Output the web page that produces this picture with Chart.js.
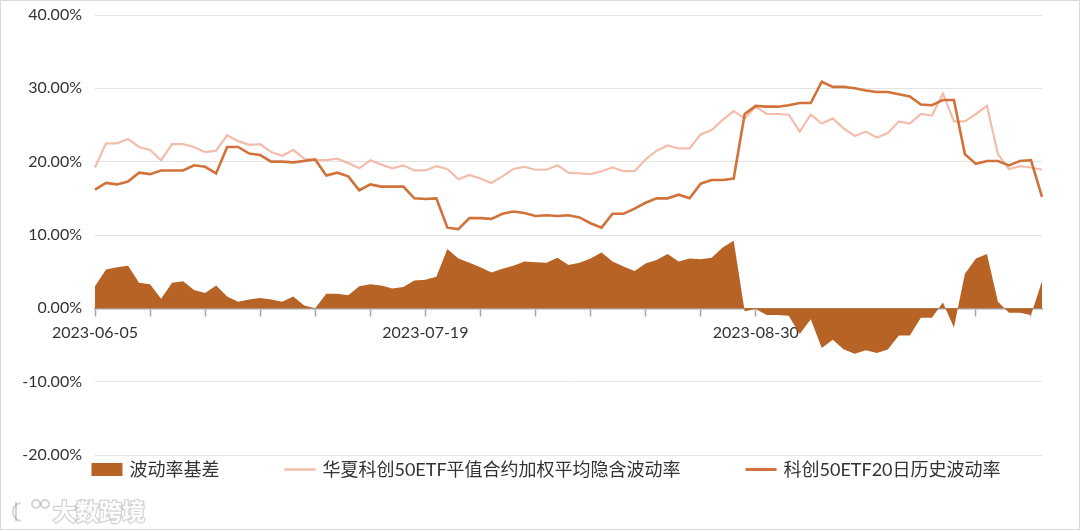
<!DOCTYPE html>
<html><head><meta charset="utf-8">
<script src="https://cdn.jsdelivr.net/npm/chart.js@4.4.1/dist/chart.umd.min.js"></script>
<style>html,body{margin:0;padding:0;background:#fff}#wrap{width:1080px;height:530px;position:relative}</style>
</head><body><div id="wrap"><canvas id="c" width="1080" height="530"></canvas></div>
<script>
// ---- data ----
const dates = [
 '2023-06-05','2023-06-06','2023-06-07','2023-06-08','2023-06-09','2023-06-12','2023-06-13','2023-06-14','2023-06-15','2023-06-16',
 '2023-06-19','2023-06-20','2023-06-21','2023-06-26','2023-06-27','2023-06-28','2023-06-29','2023-06-30',
 '2023-07-03','2023-07-04','2023-07-05','2023-07-06','2023-07-07','2023-07-10','2023-07-11','2023-07-12','2023-07-13','2023-07-14',
 '2023-07-17','2023-07-18','2023-07-19','2023-07-20','2023-07-21','2023-07-24','2023-07-25','2023-07-26','2023-07-27','2023-07-28','2023-07-31',
 '2023-08-01','2023-08-02','2023-08-03','2023-08-04','2023-08-07','2023-08-08','2023-08-09','2023-08-10','2023-08-11',
 '2023-08-14','2023-08-15','2023-08-16','2023-08-17','2023-08-18','2023-08-21','2023-08-22','2023-08-23','2023-08-24','2023-08-25',
 '2023-08-28','2023-08-29','2023-08-30','2023-08-31','2023-09-01','2023-09-04','2023-09-05','2023-09-06','2023-09-07','2023-09-08',
 '2023-09-11','2023-09-12','2023-09-13','2023-09-14','2023-09-15','2023-09-18','2023-09-19','2023-09-20','2023-09-21','2023-09-22',
 '2023-09-25','2023-09-26','2023-09-27','2023-09-28','2023-10-09','2023-10-10','2023-10-11','2023-10-12','2023-10-13'
];
const basis = [
 3.0,5.3,5.6,5.8,3.5,3.3,1.3,3.5,3.7,2.5,
 2.1,3.1,1.6,0.9,1.2,1.4,1.2,0.9,1.6,0.4,
 0.0,2.0,2.0,1.8,3.0,3.3,3.1,2.7,2.9,3.8,
 3.9,4.3,8.1,6.8,6.2,5.6,4.9,5.4,5.8,6.4,
 6.3,6.2,6.9,5.9,6.2,6.8,7.6,6.4,5.7,5.1,
 6.1,6.6,7.4,6.4,6.8,6.7,6.9,8.3,9.2,-0.4,
 -0.1,-0.9,-0.9,-1.0,-3.5,-1.5,-5.4,-4.3,-5.6,-6.2,
 -5.7,-6.1,-5.6,-3.7,-3.7,-1.3,-1.3,0.8,-2.6,4.7,
 6.8,7.4,0.9,-0.6,-0.6,-0.9,3.7
];
const impliedVol = [
 19.2,22.5,22.5,23.1,22.0,21.6,20.2,22.4,22.4,22.0,
 21.3,21.5,23.6,22.8,22.3,22.4,21.3,20.8,21.6,20.4,
 20.2,20.2,20.4,19.8,19.1,20.2,19.6,19.1,19.5,18.8,
 18.8,19.4,19.0,17.6,18.2,17.7,17.1,18.0,19.0,19.3,
 18.9,18.9,19.5,18.5,18.4,18.3,18.7,19.2,18.7,18.7,
 20.3,21.5,22.2,21.8,21.8,23.7,24.3,25.7,26.9,25.9,
 27.5,26.5,26.5,26.4,24.1,26.4,25.2,25.9,24.5,23.5,
 24.1,23.3,23.9,25.5,25.2,26.5,26.3,29.3,25.5,25.5,
 26.5,27.6,21.0,19.0,19.4,19.2,18.9
];
const histVol = [
 16.2,17.1,16.9,17.3,18.5,18.3,18.8,18.8,18.8,19.5,
 19.3,18.4,22.0,22.0,21.1,20.9,20.0,20.0,19.9,20.1,
 20.3,18.1,18.5,18.0,16.1,16.9,16.6,16.6,16.6,15.0,
 14.9,15.0,11.0,10.8,12.3,12.3,12.2,12.9,13.2,13.0,
 12.6,12.7,12.6,12.7,12.4,11.6,11.0,12.9,12.9,13.6,
 14.4,15.0,15.0,15.5,15.0,17.0,17.5,17.5,17.7,26.5,
 27.6,27.5,27.5,27.7,28.0,28.0,30.9,30.2,30.2,30.0,
 29.7,29.5,29.5,29.2,28.9,27.8,27.7,28.4,28.4,21.0,
 19.7,20.1,20.1,19.5,20.1,20.2,15.2
];
const seriesNames = ['波动率基差','华夏科创50ETF平值合约加权平均隐含波动率','科创50ETF20日历史波动率'];
const yMin = -20, yMax = 40, yStep = 10;
const labelEvery = 30, tickMarkEvery = 5;
const watermarkText = '大数跨境';

const FONT = 'Lato, "Noto Sans CJK SC", sans-serif';
Chart.defaults.font.family = FONT;

const framePlugin = {
  id: 'frame',
  beforeDraw(chart) {
    const ctx = chart.ctx;
    ctx.save(); ctx.fillStyle = '#ffffff'; ctx.fillRect(0, 0, chart.width, chart.height); ctx.restore();
  },
  afterDraw(chart) {
    const ctx = chart.ctx;
    ctx.save();
    // legend
    ctx.font = '18px ' + FONT;
    const box = 31, gap = 7, between = 65, cy = 469.5;
    const items = chart.data.datasets.map(d => ({ d, w: ctx.measureText(d.label).width }));
    const total = items.reduce((s, it) => s + box + gap + it.w, 0) + between * (items.length - 1);
    let x = 546 - total / 2;
    items.forEach(it => {
      if (it.d.legendKind === 'rect') {
        ctx.fillStyle = it.d.backgroundColor;
        ctx.fillRect(x, cy - 6.5, box, 13);
      } else {
        ctx.strokeStyle = it.d.borderColor; ctx.lineWidth = it.d.legendLine;
        ctx.beginPath(); ctx.moveTo(x, cy); ctx.lineTo(x + box, cy); ctx.stroke();
      }
      ctx.fillStyle = '#333333'; ctx.textBaseline = 'middle'; ctx.textAlign = 'left';
      ctx.fillText(it.d.label, x + box + gap, cy + 1);
      x += box + gap + it.w + between;
    });
    // watermark
    ctx.font = 'bold 23px "Noto Sans CJK SC", sans-serif';
    ctx.textBaseline = 'middle';
    ctx.lineWidth = 2.5; ctx.strokeStyle = 'rgba(160,160,160,0.45)';
    ctx.strokeText(watermarkText, 53, 511);
    ctx.fillStyle = 'rgba(255,255,255,0.95)';
    ctx.fillText(watermarkText, 53, 511);
    ctx.lineWidth = 2; ctx.strokeStyle = 'rgba(160,160,160,0.45)';
    ctx.beginPath(); ctx.arc(22, 512, 9, Math.PI * 0.55, Math.PI * 1.45); ctx.stroke();
    ctx.beginPath(); ctx.moveTo(16, 502); ctx.lineTo(16, 521); ctx.stroke();
    ctx.beginPath(); ctx.arc(36, 504, 4, 0, Math.PI * 2); ctx.stroke();
    ctx.beginPath(); ctx.arc(45, 504, 4, 0, Math.PI * 2); ctx.stroke();
    // frame
    ctx.strokeStyle = '#d9d9d9'; ctx.lineWidth = 1;
    ctx.strokeRect(0.5, 0.5, chart.width - 1, chart.height - 1);
    ctx.restore();
  }
};

new Chart(document.getElementById('c'), {
  type: 'line',
  data: {
    labels: dates,
    datasets: [
      { label: seriesNames[0], data: basis, fill: 'origin', backgroundColor: '#B86326', borderColor: '#B86326',
        borderWidth: 0, pointRadius: 0, tension: 0, order: 2, legendKind: 'rect' },
      { label: seriesNames[1], data: impliedVol, fill: false, borderColor: '#F3BDAB', backgroundColor: '#F3BDAB',
        borderWidth: 2.2, pointRadius: 0, tension: 0, order: 1, legendKind: 'line', legendLine: 2.5 },
      { label: seriesNames[2], data: histVol, fill: false, borderColor: '#D1723A', backgroundColor: '#D1723A',
        borderWidth: 2.6, pointRadius: 0, tension: 0, order: 0, legendKind: 'line', legendLine: 3 }
    ]
  },
  options: {
    responsive: false,
    animation: false,
    devicePixelRatio: 1,
    layout: { padding: { left: 0, top: 15, right: 38, bottom: 75 } },
    plugins: { legend: { display: false }, tooltip: { enabled: false } },
    scales: {
      x: {
        type: 'category',
        position: { y: 0 },
        offset: false,
        z: 1,
        grid: {
          drawOnChartArea: false, drawTicks: true, tickLength: 7, tickWidth: 1.5,
          tickColor: c => (c.index % tickMarkEvery === 0 ? '#a6a6a6' : 'rgba(0,0,0,0)')
        },
        border: { display: true, color: '#a6a6a6', width: 1.5 },
        ticks: {
          autoSkip: false, maxRotation: 0, minRotation: 0, padding: 8, color: '#333333',
          font: { size: 16, family: FONT },
          callback: function (v, i) { return i % labelEvery === 0 ? this.getLabelForValue(v) : ''; }
        },
        afterFit: s => { s.height = 0; }
      },
      y: {
        min: yMin, max: yMax,
        ticks: { stepSize: yStep, padding: 0, color: '#333333', font: { size: 16, family: FONT },
          callback: v => v.toFixed(2) + '%' },
        grid: { color: '#e3e3e3', lineWidth: 1, drawTicks: true, tickLength: 13, tickColor: 'rgba(0,0,0,0)' },
        border: { display: false },
        afterFit: s => { s.width = 95; }
      }
    }
  },
  plugins: [framePlugin]
});
</script></body></html>
